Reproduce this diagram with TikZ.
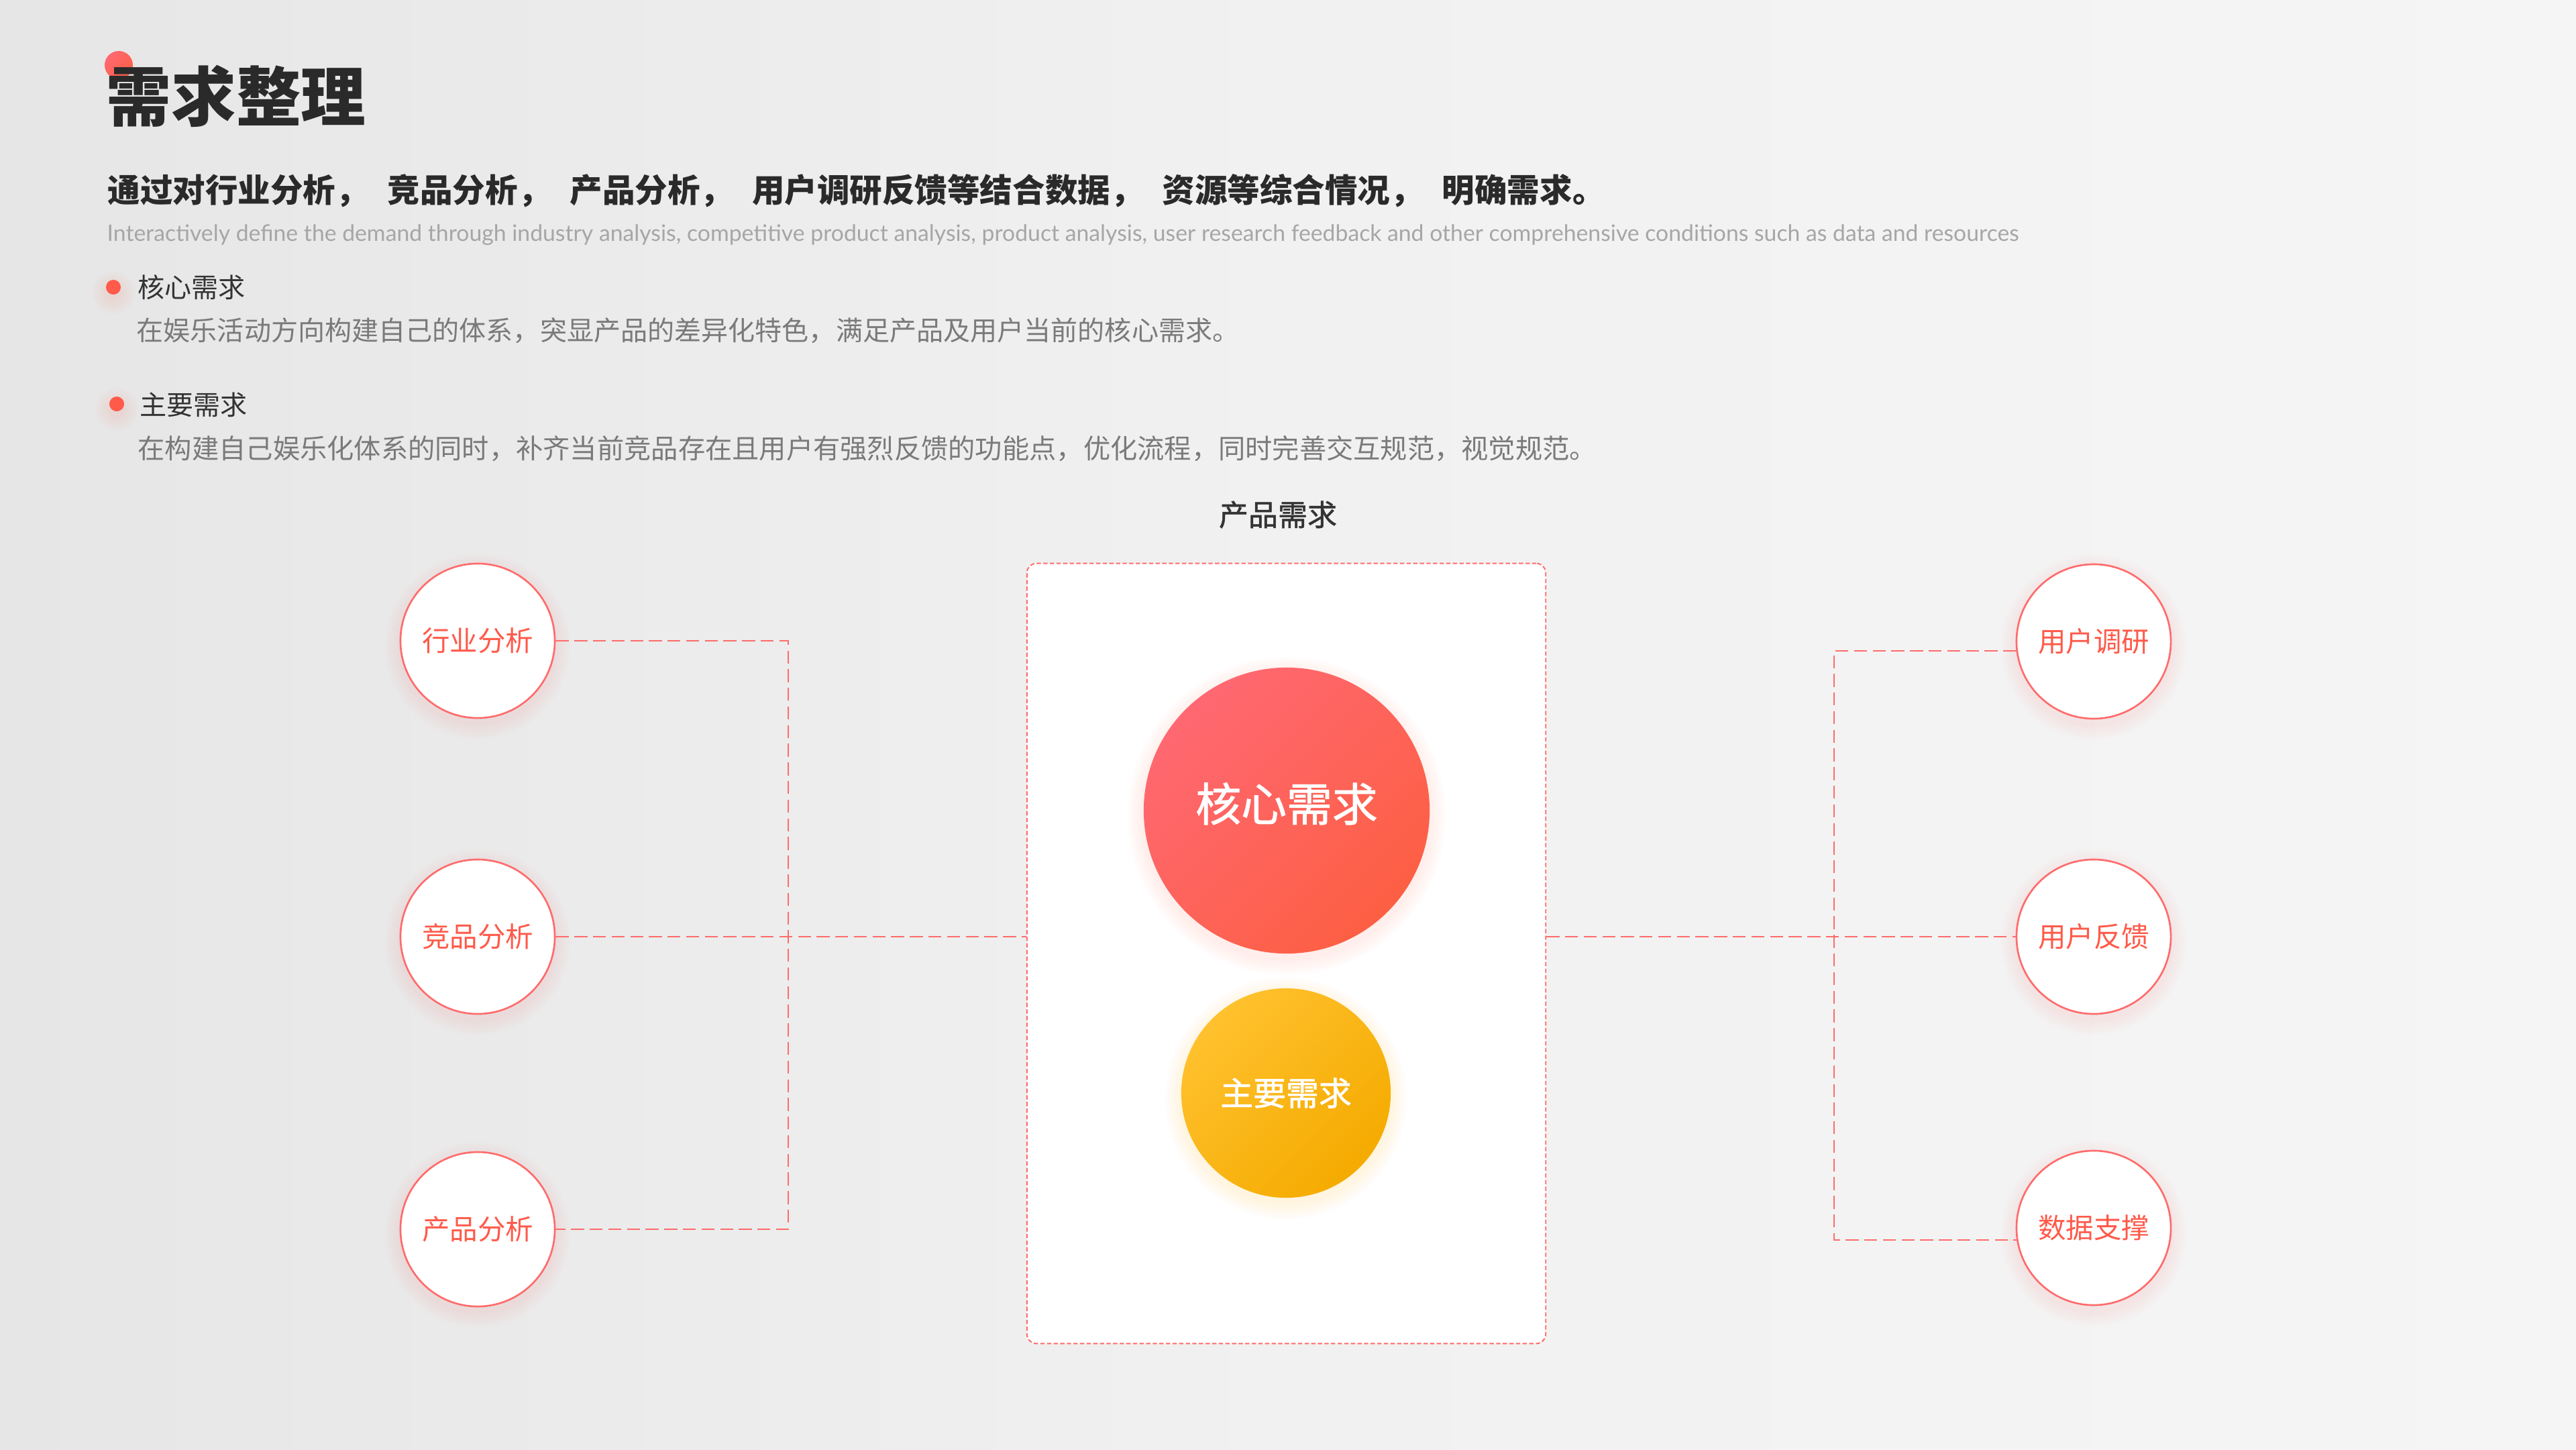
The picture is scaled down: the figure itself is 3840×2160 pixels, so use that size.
\documentclass[tikz,border=0pt]{standalone}
\usepackage{fontspec}
\usepackage{graphicx}
\setmainfont{Noto Sans CJK SC}
\newfontfamily\enfont{Lato}
\usetikzlibrary{calc}
\definecolor{bgL}{HTML}{E6E6E6}
\definecolor{bgM}{HTML}{F1F1F1}
\definecolor{bgR}{HTML}{F5F5F5}
\definecolor{lineRed}{HTML}{FF6B6B}
\definecolor{txtRed}{HTML}{FF5A4A}
\definecolor{coreA}{HTML}{FF6872}
\definecolor{coreB}{HTML}{FD5F43}
\definecolor{majA}{HTML}{FFC12E}
\definecolor{majB}{HTML}{F5AB00}
\definecolor{glowR}{HTML}{FF7F75}
\definecolor{glowY}{HTML}{FFC84A}
\definecolor{darkT}{HTML}{2A2A2A}
\definecolor{headT}{HTML}{333333}
\definecolor{descT}{HTML}{7A7A7A}
\definecolor{enT}{HTML}{A6A6A6}
\tikzset{
  side/.style={circle, draw=lineRed, line width=0.75pt, fill=white, minimum size=2.3cm, inner sep=0pt, text=txtRed, font=\fontsize{11.8pt}{12pt}\selectfont},
  conn/.style={draw=lineRed, line width=0.5pt, dash pattern=on 5.5pt off 2.4pt},
  frame/.style={draw=lineRed, line width=0.55pt, dash pattern=on 1.8pt off 1pt, fill=white, rounded corners=4pt, minimum width=7.73cm, minimum height=11.62cm, inner sep=0pt},
  plain/.style={inner sep=0pt, anchor=west},
  bigdisc/.style={circle, inner sep=0pt, text=white},
}
\newcommand\glowat[5]{%
  \foreach \d in {3,6,...,24}{\fill[#4, opacity=#5] (#1,#2+8) circle[radius={(#3+\d)*0.01cm}];}}
\begin{document}
\begin{tikzpicture}[x=0.01cm, y=-0.01cm]
\useasboundingbox (0,0) rectangle (3840,2160);
\shade[left color=bgL, right color=bgR, middle color=bgM] (0,0) rectangle (3840,2160);

% title
\shade[top color=coreA, bottom color=coreB, shading angle=45] (177,97) circle[radius=0.21cm];
\node[plain, text=darkT, font=\fontsize{27.5pt}{28pt}\selectfont\bfseries] (title) at (158,143) {需求整理};
\node[plain, text=darkT, font=\fontsize{13.8pt}{14pt}\selectfont\bfseries] (sub) at (160,284) {通过对行业分析，\hspace{0.29cm}竞品分析，\hspace{0.29cm}产品分析，\hspace{0.29cm}用户调研反馈等结合数据，\hspace{0.29cm}资源等综合情况，\hspace{0.29cm}明确需求。};
\node[anchor=base west, inner sep=0pt, text=enT] (en) at (159,359) {\resizebox{28.48cm}{!}{\enfont Interactively define the demand through industry analysis, competitive product analysis, product analysis, user research feedback and other comprehensive conditions such as data and resources}};

% bullets
\glowat{169}{428}{8}{glowR}{0.02}
\fill[txtRed] (169,428) circle[radius=0.11cm];
\node[plain, text=headT, font=\fontsize{11.4pt}{12pt}\selectfont] (h1) at (205,428) {核心需求};
\node[plain, text=descT, font=\fontsize{11.4pt}{12pt}\selectfont] (d1) at (203,493) {在娱乐活动方向构建自己的体系，突显产品的差异化特色，满足产品及用户当前的核心需求。};
\glowat{174}{602}{8}{glowR}{0.02}
\fill[txtRed] (174,602) circle[radius=0.11cm];
\node[plain, text=headT, font=\fontsize{11.4pt}{12pt}\selectfont] (h2) at (208,603) {主要需求};
\node[plain, text=descT, font=\fontsize{11.45pt}{12pt}\selectfont] (d2) at (205,669) {在构建自己娱乐化体系的同时，补齐当前竞品存在且用户有强烈反馈的功能点，优化流程，同时完善交互规范，视觉规范。};

% center column
\node[text=headT, inner sep=0pt, font=\fontsize{12.5pt}{13pt}\selectfont\addfontfeature{FakeBold=1.2}] (ptitle) at (1905,767) {产品需求};
\node[frame] (box) at (1917.5,1421) {};

% glows
\glowat{712}{955}{115}{glowR}{0.014}
\glowat{712}{1396}{115}{glowR}{0.014}
\glowat{712}{1832}{115}{glowR}{0.014}
\glowat{3121}{956}{115}{glowR}{0.014}
\glowat{3121}{1396}{115}{glowR}{0.014}
\glowat{3121}{1830}{115}{glowR}{0.014}
\glowat{1918}{1208}{213}{glowR}{0.016}
\glowat{1917}{1629}{156}{glowY}{0.018}

% circles
\node[bigdisc, minimum size=4.26cm, top color=coreA, bottom color=coreB, shading angle=45, font=\fontsize{19.3pt}{20pt}\selectfont\addfontfeature{FakeBold=1.4}] (core) at (1918,1208) {\raisebox{0.26cm}{核心需求}};
\node[bigdisc, minimum size=3.12cm, top color=majA, bottom color=majB, shading angle=45, font=\fontsize{13.9pt}{14pt}\selectfont\addfontfeature{FakeBold=1.4}] (major) at (1917,1629) {主要需求};

\node[side] (ind) at (712,955) {行业分析};
\node[side] (cmp) at (712,1396) {竞品分析};
\node[side] (prd) at (712,1832) {产品分析};
\node[side] (usr) at (3121,956) {用户调研};
\node[side] (fb) at (3121,1396) {用户反馈};
\node[side] (dat) at (3121,1830) {数据支撑};

% connectors
\coordinate (jL) at (1175,1396);
\coordinate (jR) at (2734,1396);
\draw[conn] (ind.east) -| (jL) |- (prd.east);
\draw[conn] (cmp.east) -- (box.west |- cmp.east);
\draw[conn] (box.east |- fb.west) -- (fb.west);
\draw[conn] (usr.187) -| (jR) |- (dat.189);
\end{tikzpicture}
\end{document}
